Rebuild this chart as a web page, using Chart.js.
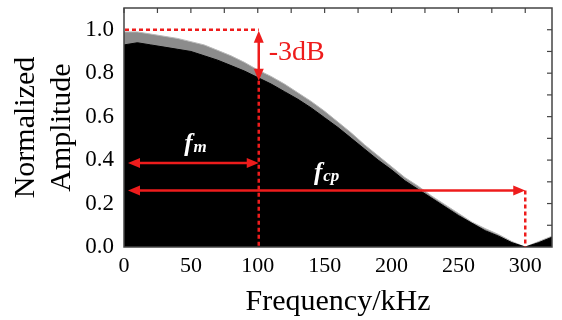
<!DOCTYPE html>
<html>
<head>
<meta charset="utf-8">
<script src="https://cdn.jsdelivr.net/npm/chart.js@4/dist/chart.umd.min.js"></script>
<style>
  html, body { margin: 0; padding: 0; background: #fff; }
  #chart { display: block; }
</style>
</head>
<body>
<canvas id="chart" width="562" height="320"></canvas>
<script>
// spectrum envelope (kHz / normalized amplitude)
var freqs = [0, 10, 20, 30, 40, 50, 60, 70, 80, 90, 100, 110, 120, 130, 140, 150, 160,
             170, 180, 190, 200, 210, 220, 230, 240, 250, 260, 270, 280, 290, 300, 310, 320];
// tips of the spectral lines (grey fringe)
var peakAmp = [0.99, 0.99, 0.98, 0.97, 0.96, 0.945, 0.93, 0.905, 0.88, 0.85, 0.815, 0.785, 0.75, 0.71, 0.67, 0.625, 0.575,
               0.525, 0.47, 0.42, 0.37, 0.32, 0.28, 0.235, 0.195, 0.155, 0.115, 0.085, 0.058, 0.025, 0.0, 0.025, 0.05];
// solid black body under the fringe
var bodyAmp = [0.93, 0.94, 0.93, 0.92, 0.91, 0.90, 0.88, 0.86, 0.835, 0.81, 0.78, 0.75, 0.715, 0.68, 0.64, 0.595, 0.55,
               0.50, 0.45, 0.40, 0.355, 0.305, 0.265, 0.225, 0.185, 0.145, 0.11, 0.075, 0.05, 0.02, 0.0, 0.02, 0.045];

var xTickVals = [0, 50, 100, 150, 200, 250, 300];
var yTickVals = [0.0, 0.2, 0.4, 0.6, 0.8, 1.0];

// annotation values
var fm = 100, fcp = 300;
var fmLevel = 0.387, fcpLevel = 0.26, topLevel = 1.0, dB3Level = 0.765;

var RED = '#ee1c1c';
var SERIF = '"Liberation Serif", "Times New Roman", serif';

function pts(ys) {
  return freqs.map(function(f, i) { return { x: f, y: ys[i] }; });
}

function arrowHead(ctx, x, y, dx, dy) {
  // tip at (x,y), pointing in direction (dx,dy)
  var len = 12, half = 5;
  var px = -dy, py = dx;
  ctx.beginPath();
  ctx.moveTo(x, y);
  ctx.lineTo(x - dx * len + px * half, y - dy * len + py * half);
  ctx.lineTo(x - dx * len - px * half, y - dy * len - py * half);
  ctx.closePath();
  ctx.fill();
}

function line(ctx, x1, y1, x2, y2, dashed) {
  ctx.save();
  ctx.setLineDash(dashed ? [4, 3] : []);
  ctx.beginPath();
  ctx.moveTo(x1, y1);
  ctx.lineTo(x2, y2);
  ctx.stroke();
  ctx.restore();
}

function subLabel(ctx, x, y, main, sub) {
  ctx.font = 'italic bold 25px ' + SERIF;
  ctx.fillText(main, x, y);
  var w = ctx.measureText(main).width;
  ctx.font = 'italic bold 17px ' + SERIF;
  ctx.fillText(sub, x + w + 1, y + 1);
}

var framePlugin = {
  id: 'frame',
  afterDatasetsDraw: function(chart) {
    var ctx = chart.ctx, a = chart.chartArea;
    var xs = chart.scales.x, ys = chart.scales.y;
    ctx.save();
    ctx.strokeStyle = '#444';
    ctx.lineWidth = 1.5;
    ctx.strokeRect(a.left, a.top, a.right - a.left, a.bottom - a.top);
    ctx.lineWidth = 1.2;
    // inward ticks on top and right
    for (var f = 0; f <= 320; f += 25) {
      var x = xs.getPixelForValue(f);
      line(ctx, x, a.top, x, a.top + 5);
    }
    for (var k = 1; k <= 10; k++) {
      var y = ys.getPixelForValue(k / 10);
      line(ctx, a.right, y, a.right - 5, y);
    }
    ctx.restore();
  }
};

var notePlugin = {
  id: 'notes',
  afterDraw: function(chart) {
    var ctx = chart.ctx;
    var xs = chart.scales.x, ys = chart.scales.y;
    var x0 = xs.getPixelForValue(0) + 1;
    var xm = xs.getPixelForValue(fm) + 1;
    var xc = xs.getPixelForValue(fcp);
    var yTop = ys.getPixelForValue(topLevel);
    var y3 = ys.getPixelForValue(dB3Level);
    var yFm = ys.getPixelForValue(fmLevel);
    var yFc = ys.getPixelForValue(fcpLevel);
    var y0 = ys.getPixelForValue(0);

    ctx.save();
    ctx.strokeStyle = RED;
    ctx.fillStyle = RED;
    ctx.lineWidth = 2.5;

    // dashed guides
    line(ctx, x0, yTop, xm, yTop, true);
    line(ctx, xm, y3, xm, y0, true);
    line(ctx, xc, yFc, xc, y0, true);

    // -3dB double arrow
    line(ctx, xm, yTop + 10, xm, y3 - 10);
    arrowHead(ctx, xm, yTop + 1, 0, -1);
    arrowHead(ctx, xm, y3, 0, 1);

    // f_m arrow
    line(ctx, x0 + 10, yFm, xm - 10, yFm);
    arrowHead(ctx, x0 + 3, yFm, -1, 0);
    arrowHead(ctx, xm, yFm, 1, 0);

    // f_cp arrow
    line(ctx, x0 + 10, yFc, xc - 10, yFc);
    arrowHead(ctx, x0 + 3, yFc, -1, 0);
    arrowHead(ctx, xc, yFc, 1, 0);

    ctx.textBaseline = 'alphabetic';
    ctx.textAlign = 'left';
    ctx.font = '28px ' + SERIF;
    ctx.fillText('-3dB', xm + 10, ys.getPixelForValue(0.86));

    ctx.fillStyle = '#fff';
    subLabel(ctx, xs.getPixelForValue(45), ys.getPixelForValue(0.444), 'f', 'm');
    subLabel(ctx, xs.getPixelForValue(142), ys.getPixelForValue(0.31), 'f', 'cp');
    ctx.restore();
  }
};

new Chart(document.getElementById('chart'), {
  type: 'line',
  data: {
    datasets: [
      { label: 'body', data: pts(bodyAmp), borderColor: '#000', borderWidth: 1,
        backgroundColor: '#000', fill: 'origin', pointRadius: 0, tension: 0 },
      { label: 'peak', data: pts(peakAmp), borderColor: '#b8b8b8', borderWidth: 1,
        backgroundColor: '#8c8c8c', fill: 'origin', pointRadius: 0, tension: 0 }
    ]
  },
  options: {
    responsive: false,
    animation: false,
    devicePixelRatio: 1,
    layout: { padding: { top: 8, right: 10, left: 0, bottom: 0 } },
    plugins: { legend: { display: false }, tooltip: { enabled: false } },
    scales: {
      x: {
        type: 'linear', min: 0, max: 320,
        afterBuildTicks: function(s) { s.ticks = xTickVals.map(function(v) { return { value: v }; }); },
        afterFit: function(s) { s.height = 73; s.paddingLeft = 0; s.paddingRight = 0; },
        grid: { display: false, drawTicks: false },
        border: { display: false },
        ticks: { padding: 6, color: '#000', font: { family: SERIF, size: 22 },
                 maxRotation: 0, autoSkip: false,
                 callback: function(v) { return String(v); } },
        title: { display: true, text: 'Frequency/kHz', color: '#000',
                 font: { family: SERIF, size: 30 }, padding: { top: 0, bottom: 0 } }
      },
      y: {
        type: 'linear', min: 0, max: 1.1,
        afterBuildTicks: function(s) { s.ticks = yTickVals.map(function(v) { return { value: v }; }); },
        afterFit: function(s) { s.width = 124; s.paddingTop = 0; s.paddingBottom = 0; },
        grid: { display: false, drawTicks: false },
        border: { display: false },
        ticks: { padding: 10, color: '#000', font: { family: SERIF, size: 23 },
                 callback: function(v) { return Number(v).toFixed(1); } },
        title: { display: true, text: ['Normalized', 'Amplitude'], color: '#000',
                 font: { family: SERIF, size: 30, lineHeight: 1.17 }, padding: { top: 9, bottom: 0 } }
      }
    }
  },
  plugins: [framePlugin, notePlugin]
});
</script>
</body>
</html>
